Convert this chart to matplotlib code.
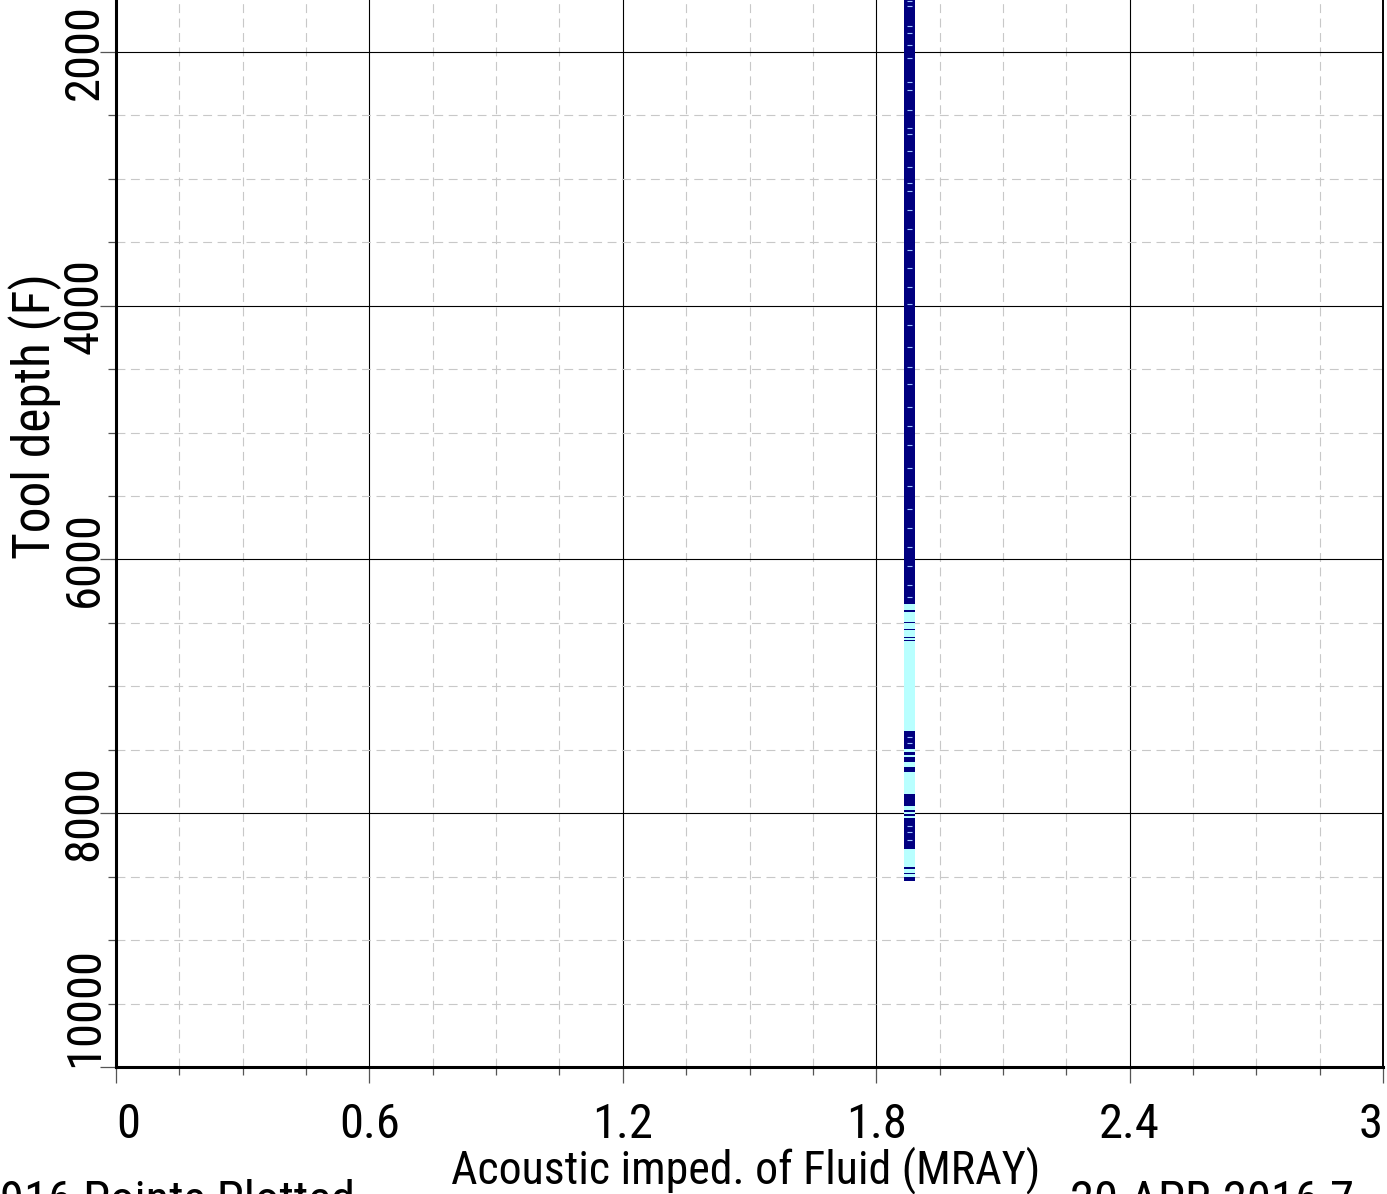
import numpy as np
import matplotlib.pyplot as plt
from matplotlib import font_manager
from matplotlib.ticker import MultipleLocator

# the log plot uses a narrow sans face - pick whatever narrow font is installed
fonts = font_manager.fontManager.ttflist
names = {f.name for f in fonts}
narrow = None
for cand in ['Liberation Sans Narrow', 'Roboto Condensed', 'Open Sans Condensed', 'Noto Sans Condensed']:
    if cand in names:
        narrow = cand
        break
stretch = 'normal'
if narrow is None:
    for f in fonts:
        if ('Narrow' in f.name or 'Condensed' in f.name) and f.style == 'normal':
            narrow = f.name
            break
if narrow is None:
    for f in fonts:
        if f.name in ('DejaVu Sans', 'Roboto', 'Noto Sans', 'Open Sans') and f.stretch in ('condensed', 'semi-condensed', 575, 600, 650, 700) \
                and f.weight in ('normal', 400, 'regular', 'book'):
            narrow = f.name
            stretch = 'condensed'
            break
if narrow is None:
    narrow = 'Liberation Sans'
plt.rcParams['font.family'] = [narrow, 'DejaVu Sans']
plt.rcParams['font.stretch'] = stretch
fs = 35

# fluid acoustic impedance (MRAY) - constant along the well
ai_fluid = 1.88

# depth intervals (ft) of the plotted samples, split by colour class
navy_top = [200, 6400, 6490, 6545, 6608, 6632, 7354, 7520, 7560, 7638, 7850, 7975, 8010, 8040, 8425, 8470, 8500]
navy_bot = [6354, 6418, 6502, 6556, 6620, 6645, 7496, 7540, 7598, 7677, 7945, 7990, 8024, 8283, 8440, 8482, 8535]
cyan_top = [6354]
cyan_bot = [8520]
# faint light streaks inside the dark band
streak_depth = [1600, 1640, 1800, 1850, 1950, 2050, 2240, 2300, 2460, 2600, 2650, 2780, 2910, 3030,
                3100, 3250, 3400, 3560, 3700, 3850, 3990, 4150, 4330, 4480, 4620, 4800, 4950, 5100,
                5280, 5420, 5600, 5750, 5900, 6050, 6200, 6300, 7400, 7450, 8100, 8150, 8210]

xticks = [0, 0.6, 1.2, 1.8, 2.4, 3]
xlabels = ['0', '0.6', '1.2', '1.8', '2.4', '3']
yticks = [2000, 4000, 6000, 8000, 10000]

W, H = 1387, 1194
fig = plt.figure(figsize=(W / 100, H / 100), dpi=100)
ax = fig.add_axes([116 / W, (H - 1067) / H, 1267 / W, 1269 / H])

bw = 0.026
ax.bar([ai_fluid] * len(cyan_top), np.array(cyan_bot) - np.array(cyan_top), bottom=cyan_top,
       width=bw, color='#b8ffff', linewidth=0, zorder=3)
ax.bar([ai_fluid] * len(navy_top), np.array(navy_bot) - np.array(navy_top), bottom=navy_top,
       width=bw, color='#000080', linewidth=0, zorder=4)
ax.hlines(streak_depth, ai_fluid - 0.006, ai_fluid + 0.004, color='#9fc4ff', lw=0.8, zorder=5)

ax.set_xlim(0, 3)
ax.set_ylim(10000, 0)

ax.set_xticks(xticks)
ax.set_xticklabels(xlabels)
ax.set_yticks(yticks)
ax.set_yticklabels([str(v) for v in yticks])
ax.xaxis.set_minor_locator(MultipleLocator(0.15))
ax.yaxis.set_minor_locator(MultipleLocator(500))

ax.grid(which='major', color='black', lw=0.8, zorder=1)
ax.grid(which='minor', color='#c8c8c8', lw=0.8, ls=(0, (8, 5)), zorder=0)

ax.tick_params(which='major', length=11.5, width=0.9, color='#555555', labelsize=fs)
ax.tick_params(which='minor', length=5.8, width=0.9, color='#555555')
ax.tick_params(axis='x', pad=13.5)
ax.tick_params(axis='y', labelrotation=90, pad=-5.5)

for lab in ax.get_yticklabels():
    lab.set_va('center')
yl = ax.get_yticklabels()
yl[-1].set_va('bottom')
xl = ax.get_xticklabels()
xl[0].set_ha('left')
xl[-1].set_ha('right')

for s in ['left', 'bottom']:
    ax.spines[s].set_linewidth(2.2)
ax.spines['right'].set_linewidth(1.4)
ax.spines['top'].set_visible(False)

ax.set_xlabel('Acoustic imped. of Fluid (MRAY)', fontsize=33)
ax.xaxis.set_label_coords(0.497, -0.062)
ax.set_ylabel('Tool depth (F)', fontsize=37)
ax.yaxis.set_label_coords(-0.0426, 0.513)

fig.text(0, (H - 1215) / H, '916 Points Plotted', fontsize=fs, va='baseline', ha='left')
fig.text(1070 / W, (H - 1215) / H, '20-APR-2016 7', fontsize=fs, va='baseline', ha='left')

plt.savefig('out.png', dpi=100)
